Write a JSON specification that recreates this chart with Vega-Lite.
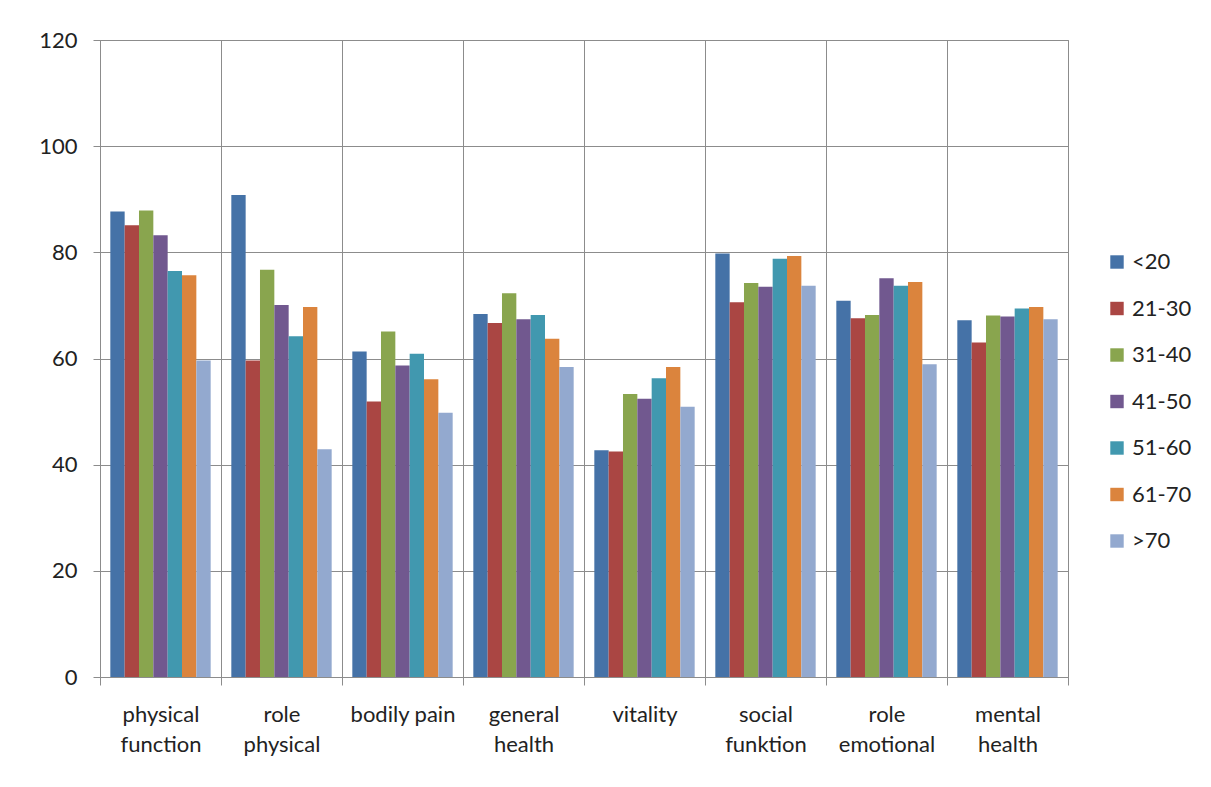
{
  "$schema": "https://vega.github.io/schema/vega-lite/v6.json",
  "width": 968,
  "height": 637,
  "autosize": {"type": "none"},
  "padding": {"left": 100, "top": 40, "right": 143, "bottom": 110},
  "background": "white",
  "data": {
    "values": [
      {"scale": "physical function", "age": "<20", "score": 87.7},
      {"scale": "physical function", "age": "21-30", "score": 85.1},
      {"scale": "physical function", "age": "31-40", "score": 87.9},
      {"scale": "physical function", "age": "41-50", "score": 83.2},
      {"scale": "physical function", "age": "51-60", "score": 76.5},
      {"scale": "physical function", "age": "61-70", "score": 75.7},
      {"scale": "physical function", "age": ">70", "score": 59.6},
      {"scale": "role physical", "age": "<20", "score": 90.8},
      {"scale": "role physical", "age": "21-30", "score": 59.6},
      {"scale": "role physical", "age": "31-40", "score": 76.7},
      {"scale": "role physical", "age": "41-50", "score": 70.1},
      {"scale": "role physical", "age": "51-60", "score": 64.2},
      {"scale": "role physical", "age": "61-70", "score": 69.7},
      {"scale": "role physical", "age": ">70", "score": 42.9},
      {"scale": "bodily pain", "age": "<20", "score": 61.3},
      {"scale": "bodily pain", "age": "21-30", "score": 51.9},
      {"scale": "bodily pain", "age": "31-40", "score": 65.1},
      {"scale": "bodily pain", "age": "41-50", "score": 58.7},
      {"scale": "bodily pain", "age": "51-60", "score": 60.9},
      {"scale": "bodily pain", "age": "61-70", "score": 56.1},
      {"scale": "bodily pain", "age": ">70", "score": 49.8},
      {"scale": "general health", "age": "<20", "score": 68.4},
      {"scale": "general health", "age": "21-30", "score": 66.7},
      {"scale": "general health", "age": "31-40", "score": 72.3},
      {"scale": "general health", "age": "41-50", "score": 67.4},
      {"scale": "general health", "age": "51-60", "score": 68.2},
      {"scale": "general health", "age": "61-70", "score": 63.7},
      {"scale": "general health", "age": ">70", "score": 58.4},
      {"scale": "vitality", "age": "<20", "score": 42.7},
      {"scale": "vitality", "age": "21-30", "score": 42.5},
      {"scale": "vitality", "age": "31-40", "score": 53.3},
      {"scale": "vitality", "age": "41-50", "score": 52.4},
      {"scale": "vitality", "age": "51-60", "score": 56.3},
      {"scale": "vitality", "age": "61-70", "score": 58.4},
      {"scale": "vitality", "age": ">70", "score": 50.9},
      {"scale": "social funktion", "age": "<20", "score": 79.8},
      {"scale": "social funktion", "age": "21-30", "score": 70.6},
      {"scale": "social funktion", "age": "31-40", "score": 74.2},
      {"scale": "social funktion", "age": "41-50", "score": 73.5},
      {"scale": "social funktion", "age": "51-60", "score": 78.8},
      {"scale": "social funktion", "age": "61-70", "score": 79.3},
      {"scale": "social funktion", "age": ">70", "score": 73.7},
      {"scale": "role emotional", "age": "<20", "score": 70.9},
      {"scale": "role emotional", "age": "21-30", "score": 67.6},
      {"scale": "role emotional", "age": "31-40", "score": 68.2},
      {"scale": "role emotional", "age": "41-50", "score": 75.1},
      {"scale": "role emotional", "age": "51-60", "score": 73.7},
      {"scale": "role emotional", "age": "61-70", "score": 74.4},
      {"scale": "role emotional", "age": ">70", "score": 58.9},
      {"scale": "mental health", "age": "<20", "score": 67.2},
      {"scale": "mental health", "age": "21-30", "score": 63.0},
      {"scale": "mental health", "age": "31-40", "score": 68.1},
      {"scale": "mental health", "age": "41-50", "score": 67.9},
      {"scale": "mental health", "age": "51-60", "score": 69.4},
      {"scale": "mental health", "age": "61-70", "score": 69.7},
      {"scale": "mental health", "age": ">70", "score": 67.4}
    ]
  },
  "mark": {"type": "bar"},
  "encoding": {
    "x": {
      "field": "scale",
      "type": "nominal",
      "sort": null,
      "title": null,
      "scale": {"paddingInner": 0, "paddingOuter": 0},
      "axis": {
        "tickBand": "extent",
        "grid": true,
        "gridColor": "#8c8c8c",
        "gridWidth": 1,
        "domainColor": "#8c8c8c",
        "tickColor": "#8c8c8c",
        "tickSize": 8,
        "labelAngle": 0,
        "labelFont": "Lato",
        "labelFontSize": 22,
        "labelColor": "#222222",
        "labelPadding": 19,
        "labelLineHeight": 30,
        "labelBaseline": "top",
        "labelExpr": "!isValid(datum.value) ? '' : (datum.value == 'bodily pain' || datum.value == 'vitality' ? datum.value : split(datum.value, ' '))"
      }
    },
    "xOffset": {
      "field": "age",
      "type": "nominal",
      "sort": ["<20", "21-30", "31-40", "41-50", "51-60", "61-70", ">70"],
      "scale": {"paddingInner": 0, "paddingOuter": 0.72}
    },
    "y": {
      "field": "score",
      "type": "quantitative",
      "title": null,
      "scale": {"domain": [0, 120], "nice": false},
      "axis": {
        "values": [0, 20, 40, 60, 80, 100, 120],
        "grid": true,
        "gridColor": "#8c8c8c",
        "domainColor": "#8c8c8c",
        "tickColor": "#8c8c8c",
        "tickSize": 7,
        "labelFont": "Lato",
        "labelFontSize": 22,
        "labelColor": "#222222",
        "labelPadding": 16
      }
    },
    "color": {
      "field": "age",
      "type": "nominal",
      "sort": ["<20", "21-30", "31-40", "41-50", "51-60", "61-70", ">70"],
      "scale": {
        "domain": ["<20", "21-30", "31-40", "41-50", "51-60", "61-70", ">70"],
        "range": ["#4572A7", "#AA4643", "#89A54E", "#71588F", "#4198AF", "#DB843D", "#93A9CF"]
      },
      "legend": {
        "title": null,
        "orient": "none",
        "legendX": 1006,
        "legendY": 211,
        "symbolType": "square",
        "symbolSize": 180,
        "symbolStrokeWidth": 0,
        "labelFont": "Lato",
        "labelFontSize": 22,
        "labelColor": "#222222",
        "labelOffset": 4,
        "rowPadding": 24.5
      }
    }
  },
  "config": {
    "view": {"stroke": "#8c8c8c"}
  }
}
